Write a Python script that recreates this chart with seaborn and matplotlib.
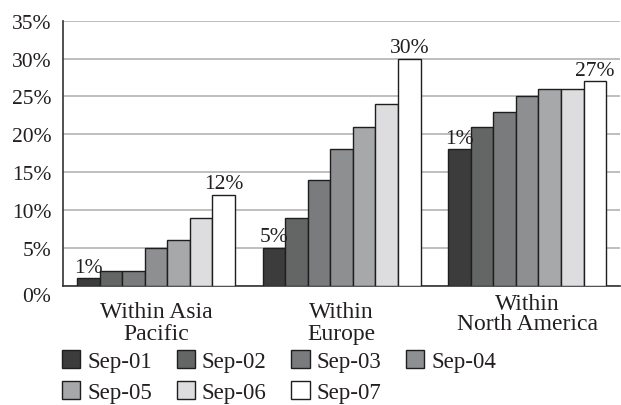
import matplotlib
matplotlib.use("Agg")
import matplotlib.pyplot as plt
import matplotlib.transforms as mtransforms
import pandas as pd
import seaborn as sns

# Share of traffic by region, one bar per survey period
regions = ["Within Asia\nPacific", "Within\nEurope", "Within\nNorth America"]
periods = ["Sep-01", "Sep-02", "Sep-03", "Sep-04", "Sep-05", "Sep-06", "Sep-07"]
asia_pacific = [1, 2, 2, 5, 6, 9, 12]
europe = [5, 9, 14, 18, 21, 24, 30]
north_america = [18, 21, 23, 25, 26, 26, 27]

# Value labels printed over the first and last period of each region
first_period_labels = ["1%", "5%", "1%"]
last_period_labels = ["12%", "30%", "27%"]

y_ticks = [0, 5, 10, 15, 20, 25, 30, 35]
shades = ["#3c3c3c", "#646565", "#7a7b7d", "#8e8f91", "#a7a8aa", "#dcdde0", "#ffffff"]

rows = []
for region, values in zip(regions, [asia_pacific, europe, north_america]):
    for period, v in zip(periods, values):
        rows.append({"region": region, "period": period, "share": v})
df = pd.DataFrame(rows)

sns.set_theme(style="white")
plt.rcParams["font.family"] = ["Liberation Serif", "DejaVu Serif"]
text_color = "#231f20"
axis_color = "#333333"
fs_ticks = 15.5
fs_regions = 17
fs_legend = 16.5

fig = plt.figure(figsize=(6.21, 4.06), dpi=100)
ax = fig.add_axes([63.3 / 621, 1 - 286.7 / 406, (620 - 63.3) / 621, (286.7 - 21.7) / 406])

sns.barplot(
    data=df, x="region", y="share", hue="period",
    order=regions, hue_order=periods, palette=shades,
    width=0.85, edgecolor="#1e1e1e", linewidth=1.0,
    errorbar=None, ax=ax, zorder=3,
)

handles, labels = ax.get_legend_handles_labels()
ax.get_legend().remove()

ax.bar_label(ax.containers[0], labels=first_period_labels, padding=1,
             fontsize=fs_ticks, color=text_color)
ax.bar_label(ax.containers[-1], labels=last_period_labels, padding=1,
             fontsize=fs_ticks, color=text_color)

# Axes styling
ax.set_xlim(-0.5, len(regions) - 0.5)
ax.set_ylim(y_ticks[0], y_ticks[-1])
ax.set_yticks(y_ticks)
ax.set_yticklabels([f"{t}%" for t in y_ticks])
ax.yaxis.grid(True, color="#b9b9b9", linewidth=1.3, zorder=0)
ax.set_axisbelow(True)
for side in ["top", "right"]:
    ax.spines[side].set_visible(False)
for side in ["left", "bottom"]:
    ax.spines[side].set_color(axis_color)
    ax.spines[side].set_linewidth(1.2)

ax.tick_params(axis="y", which="major", direction="out", length=5.5, width=1.2,
               color=axis_color, labelsize=fs_ticks, labelcolor=text_color, pad=3)
ax.set_xticks(range(len(regions)))
ax.set_xticklabels([])
ax.set_xticks([i + 0.5 for i in range(len(regions) - 1)], minor=True)
ax.tick_params(axis="x", which="major", length=0)
ax.tick_params(axis="x", which="minor", direction="out", length=5, width=1.2,
               color=axis_color)
ax.set_xlabel("")
ax.set_ylabel("")

# The zero label sits a little below its gridline
zero_label = ax.yaxis.get_major_ticks()[0].label1
zero_label.set_transform(zero_label.get_transform()
                         + mtransforms.ScaledTranslation(0, -6 / 72, fig.dpi_scale_trans))

# Region names under each group
label_offsets = [-10.7, -10.7, -5]
label_spacing = [1.06, 1.06, 0.95]
for i, (name, off, ls) in enumerate(zip(regions, label_offsets, label_spacing)):
    ax.annotate(name, xy=(i, 0), xycoords=("data", "axes fraction"),
                xytext=(0, off), textcoords="offset points",
                ha="center", va="top", fontsize=fs_regions, color=text_color,
                linespacing=ls)

# Legend fills row by row: reorder for matplotlib's column-wise layout
ncol = 4
nrow = 2
order = []
for c in range(ncol):
    for r in range(nrow):
        k = r * ncol + c
        if k < len(handles):
            order.append(k)
fig.legend([handles[k] for k in order], [labels[k] for k in order],
           loc="upper left", bbox_to_anchor=(62 / 621, 1 - 351 / 406),
           ncol=ncol, frameon=False,
           fontsize=fs_legend, labelcolor=text_color, handlelength=0.8,
           handleheight=0.8, handletextpad=0.3, columnspacing=1.08,
           labelspacing=0.42, borderpad=0, borderaxespad=0)

fig.savefig("out.png", dpi=100)
